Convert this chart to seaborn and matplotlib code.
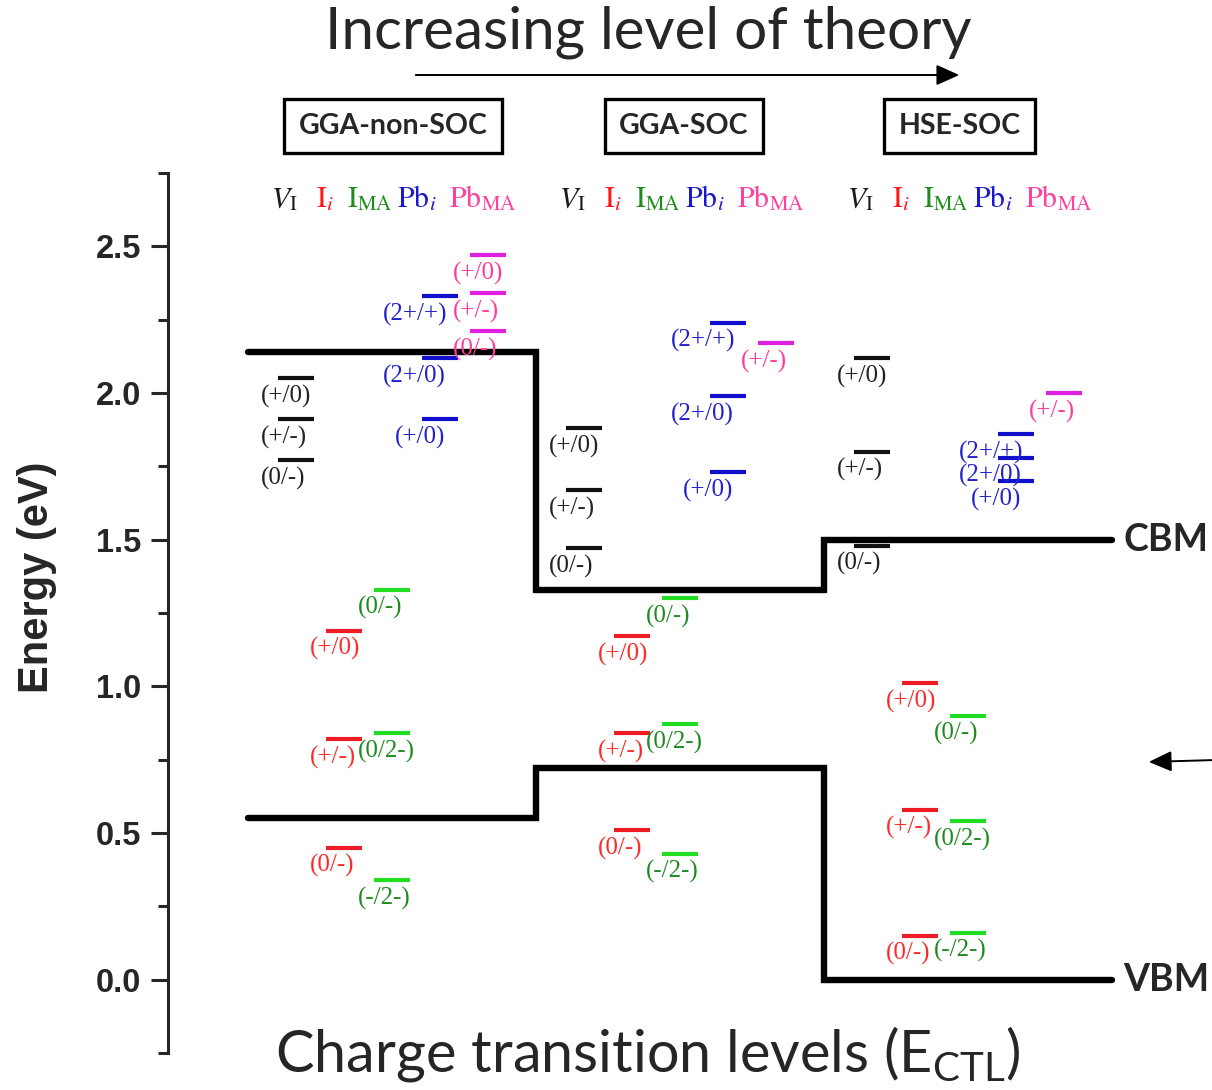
import matplotlib
matplotlib.use("Agg")
import matplotlib.pyplot as plt
import pandas as pd
import seaborn as sns

# ---- data -------------------------------------------------------------
methods = ["GGA-non-SOC", "GGA-SOC", "HSE-SOC"]
method_box_x = [0.503, 1.512, 2.47]
cbm = [2.14, 1.33, 1.50]
vbm = [0.55, 0.72, 0.00]

defects = ["V_I", "I_i", "I_MA", "Pb_i", "Pb_MA"]
defect_headers = [r"$V_{\mathrm{I}}$", r"$\mathrm{I}_{i}$",
                  r"$\mathrm{I}_{\mathrm{MA}}$", r"$\mathrm{Pb}_{i}$",
                  r"$\mathrm{Pb}_{\mathrm{MA}}$"]

# transition labels and energies (eV) for each method
v_i_trans = [["(+/0)", "(+/-)", "(0/-)"]] * 3
v_i_energy = [[2.05, 1.91, 1.77], [1.88, 1.67, 1.47], [2.12, 1.80, 1.48]]

i_i_trans = [["(+/0)", "(+/-)", "(0/-)"]] * 3
i_i_energy = [[1.19, 0.82, 0.45], [1.17, 0.84, 0.51], [1.01, 0.58, 0.15]]

i_ma_trans = [["(0/-)", "(0/2-)", "(-/2-)"]] * 3
i_ma_energy = [[1.33, 0.84, 0.34], [1.30, 0.87, 0.43], [0.90, 0.54, 0.16]]

pb_i_trans = [["(2+/+)", "(2+/0)", "(+/0)"]] * 3
pb_i_energy = [[2.33, 2.12, 1.91], [2.24, 1.99, 1.73], [1.86, 1.78, 1.70]]

pb_ma_trans = [["(+/0)", "(+/-)", "(0/-)"], ["(+/-)"], ["(+/-)"]]
pb_ma_energy = [[2.47, 2.34, 2.21], [2.17], [2.00]]

all_trans = [v_i_trans, i_i_trans, i_ma_trans, pb_i_trans, pb_ma_trans]
all_energy = [v_i_energy, i_i_energy, i_ma_energy, pb_i_energy, pb_ma_energy]

# ---- styling ----------------------------------------------------------
bar_colors = ["#111111", "#ee1c24", "#22dd22", "#1010cc", "#e020e0"]
text_colors = ["#222222", "#ff2a2a", "#1f8a1f", "#2222cc", "#ff3c9c"]
header_colors = ["#1a1a1a", "#ff1a1a", "#1e8c1e", "#1a1acc", "#ff40a0"]
header_dx = [-0.040, -0.068, -0.076, -0.080, -0.020]
label_dx = [-0.122, -0.118, -0.118, -0.200, -0.122]
label_indent = {("Pb_i", "(+/0)"): 0.042}

sns.set_style("ticks")
plt.rcParams["font.family"] = ["Lato", "DejaVu Sans"]
plt.rcParams["mathtext.fontset"] = "custom"
plt.rcParams["mathtext.rm"] = "Lato"
plt.rcParams["mathtext.it"] = "Lato:italic"
plt.rcParams["mathtext.bf"] = "Lato:bold"

fig = plt.figure(figsize=(12.12, 10.9), dpi=100)
ax = fig.add_axes([168 / 1212, 37 / 1090, 1 - 168 / 1212, 880 / 1090])
ax.set_xlim(-0.278, 3.347)
ax.set_ylim(-0.25, 2.75)

# ---- band edges as step lines -----------------------------------------
step_x = [0, 1, 1, 2, 2, 3]
cbm_y = [cbm[0], cbm[0], cbm[1], cbm[1], cbm[2], cbm[2]]
vbm_y = [vbm[0], vbm[0], vbm[1], vbm[1], vbm[2], vbm[2]]
for edge_y in (cbm_y, vbm_y):
    sns.lineplot(x=step_x, y=edge_y, sort=False, estimator=None, color="black",
                 lw=4.6, ax=ax, solid_joinstyle="miter", solid_capstyle="round")
ax.text(3.04, cbm[2], "CBM", fontsize=27, fontweight="bold", va="center", ha="left")
ax.text(3.04, vbm[2], "VBM", fontsize=27, fontweight="bold", va="center", ha="left")

# ---- defect levels ----------------------------------------------------
half_w = 0.061
rows = []
uid = 0
for d, name in enumerate(defects):
    for m in range(len(methods)):
        xc = m + (d + 1) / 6
        for e in all_energy[d][m]:
            rows.append({"x": xc - half_w, "E": e, "defect": name, "uid": uid})
            rows.append({"x": xc + half_w, "E": e, "defect": name, "uid": uid})
            uid += 1
levels = pd.DataFrame(rows)
sns.lineplot(data=levels, x="x", y="E", hue="defect", units="uid",
             estimator=None, sort=False, palette=dict(zip(defects, bar_colors)),
             lw=3.0, legend=False, ax=ax, solid_capstyle="butt")

for d, name in enumerate(defects):
    for m in range(len(methods)):
        xc = m + (d + 1) / 6
        for lab, e in zip(all_trans[d][m], all_energy[d][m]):
            x0 = xc + label_dx[d] + label_indent.get((name, lab), 0.0)
            ax.text(x0, e - 0.062, lab, ha="left", va="center",
                    fontsize=18, color=text_colors[d],
                    family="Liberation Serif", clip_on=False)
        ax.text(xc + header_dx[d], 2.635, defect_headers[d], ha="center",
                va="baseline", fontsize=21.5, color=header_colors[d],
                math_fontfamily="stix", clip_on=False)

# ---- method boxes -----------------------------------------------------
for m, name in enumerate(methods):
    ax.text(method_box_x[m], 2.91, name, ha="center", va="center",
            fontsize=20.5, fontweight="bold", clip_on=False,
            bbox=dict(boxstyle="square,pad=0.5", fc="white", ec="black", lw=2.4))

# ---- axes styling -----------------------------------------------------
for side in ("top", "right", "bottom"):
    ax.spines[side].set_visible(False)
ax.spines["left"].set_linewidth(2.2)
ax.set_xticks([])
ax.set_yticks([0.0, 0.5, 1.0, 1.5, 2.0, 2.5])
ax.set_yticks([-0.25, 0.25, 0.75, 1.25, 1.75, 2.25, 2.75], minor=True)
ax.yaxis.set_major_formatter(matplotlib.ticker.FormatStrFormatter("%.1f"))
ax.tick_params(axis="y", which="major", direction="out", length=12, width=2.2,
               pad=7, labelsize=23.5)
ax.tick_params(axis="y", which="minor", direction="out", length=7, width=2.2)
for t in ax.get_yticklabels():
    t.set_fontfamily("Liberation Sans")
    t.set_fontweight("bold")
ax.set_xlabel("")
ax.set_ylabel("")
ax.patch.set_alpha(0)

fig.text(37 / 1212, 1 - 577 / 1090, "Energy (eV)", rotation=90, ha="center",
         va="center", fontsize=30, fontweight="bold", family="Liberation Sans")

# ---- titles and arrows ------------------------------------------------
fig.text(648 / 1212, 1 - 32 / 1090, "Increasing level of theory", ha="center",
         va="center", fontsize=42)
fig.text(648 / 1212, 1 - 1054 / 1090, r"Charge transition levels (E$_{\mathrm{CTL}}$)",
         ha="center", va="center", fontsize=41.5)
fig.patches.append(matplotlib.patches.FancyArrowPatch(
    (413 / 1212, 1 - 75 / 1090), (962 / 1212, 1 - 75 / 1090),
    transform=fig.transFigure, arrowstyle="-|>,head_length=10,head_width=4.5",
    lw=1.4, color="black", mutation_scale=1.4))
fig.patches.append(matplotlib.patches.FancyArrowPatch(
    (1216 / 1212, 1 - 760 / 1090), (1146 / 1212, 1 - 762 / 1090),
    transform=fig.transFigure, arrowstyle="-|>,head_length=10,head_width=4.5",
    lw=1.4, color="black", mutation_scale=1.4))

fig.savefig("out.png", dpi=100)
